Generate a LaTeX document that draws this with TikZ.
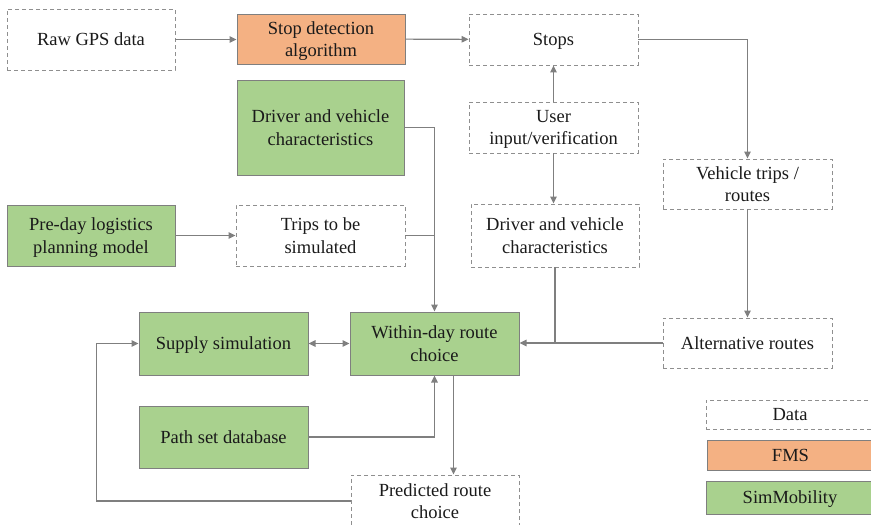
\documentclass[tikz,border=0pt]{standalone}
\usepackage{fontspec}
\setmainfont{Liberation Serif}
\usetikzlibrary{arrows.meta}
\definecolor{fmsorange}{HTML}{F4B183}
\definecolor{simgreen}{HTML}{A9D18E}
\definecolor{linegray}{HTML}{7F7F7F}
\definecolor{dashgray}{HTML}{8F8F8F}
\definecolor{txt}{HTML}{1A1A1A}
\begin{document}
\begin{tikzpicture}[x=1pt,y=-1pt,
 >={Triangle[width=6.5pt,length=7pt]},
 base/.style={rectangle, inner sep=0pt, align=center, text depth=0pt, font=\fontsize{18.5}{22.6}\selectfont, text=txt},
 databox/.style={base, draw=dashgray, line width=0.9pt, dash pattern=on 4pt off 3pt},
 fmsbox/.style={base, draw=linegray, fill=fmsorange, line width=1pt},
 simbox/.style={base, draw=linegray, fill=simgreen, line width=1pt},
 sz/.style 2 args={minimum width=#1pt, minimum height=#2pt},
 link/.style={draw=linegray, line width=1.1pt},
 conn/.style={link, ->}]
\useasboundingbox (0,0) rectangle (871,525);
\clip (0,0) rectangle (871,525);

\node[databox, sz={168}{61}] (raw) at (91,39.5) {Raw GPS data};
\node[fmsbox, sz={168}{50}] (stopdet) at (321,39) {Stop detection\\algorithm};
\node[databox, sz={169}{51}] (stops) at (553.5,39.5) {Stops};
\node[simbox, sz={167}{95}] (drvg) at (320.5,127.5) {Driver and vehicle\\characteristics};
\node[databox, sz={169}{51}] (user) at (553.5,127.5) {User\\input/verification};
\node[databox, sz={169}{50}] (vtrips) at (747.5,184) {Vehicle trips /\\routes};
\node[simbox, sz={168}{61}] (preday) at (91,235.5) {Pre-day logistics\\planning model};
\node[databox, sz={169}{61}] (trips) at (320.5,235.5) {Trips to be\\simulated};
\node[databox, sz={168}{63}] (drvd) at (555,235.5) {Driver and vehicle\\characteristics};
\node[simbox, sz={169}{63}] (supply) at (223.5,343.5) {Supply simulation};
\node[simbox, sz={169}{63}] (within) at (434.5,343.5) {Within-day route\\choice};
\node[databox, sz={169}{50}] (alt) at (747.5,343) {Alternative routes};
\node[simbox, sz={169}{62}] (pathset) at (223.5,437) {Path set database};
\node[databox, sz={168}{52}] (pred) at (435,501) {Predicted route\\choice};

\node[databox, sz={168}{29}] (legdata) at (790,414.5) {Data};
\node[fmsbox, sz={167}{30}] (legfms) at (790.5,455) {FMS};
\node[simbox, sz={168}{33}] (legsim) at (790,497.5) {SimMobility};

\draw[conn] (raw.east) -- (raw.east -| stopdet.west);
\draw[conn] (stopdet) -- (stops);
\draw[conn] (stops.east) -| (vtrips.north);
\draw[conn] (user) -- (stops);
\draw[conn] (user.south) -- (user.south |- drvd.north);
\draw[conn] (drvg.east) -| (within.north);
\draw[link] (trips.east) -- (trips.east -| within.north);
\draw[conn] (preday) -- (trips);
\draw[conn] (vtrips) -- (alt);
\draw[conn] (alt.west) -- (within.east |- alt.west);
\draw[link] (drvd.south) -- (drvd.south |- alt.west);
\draw[link, <->] (supply) -- (within);
\draw[conn] (pathset.east) -| (within.south);
\draw[conn] ([xshift=19pt]within.south) -- ([xshift=19pt]within.south |- pred.north);
\draw[conn] (pred.west) -- ++(-254,0) |- (supply.west);
\end{tikzpicture}
\end{document}
